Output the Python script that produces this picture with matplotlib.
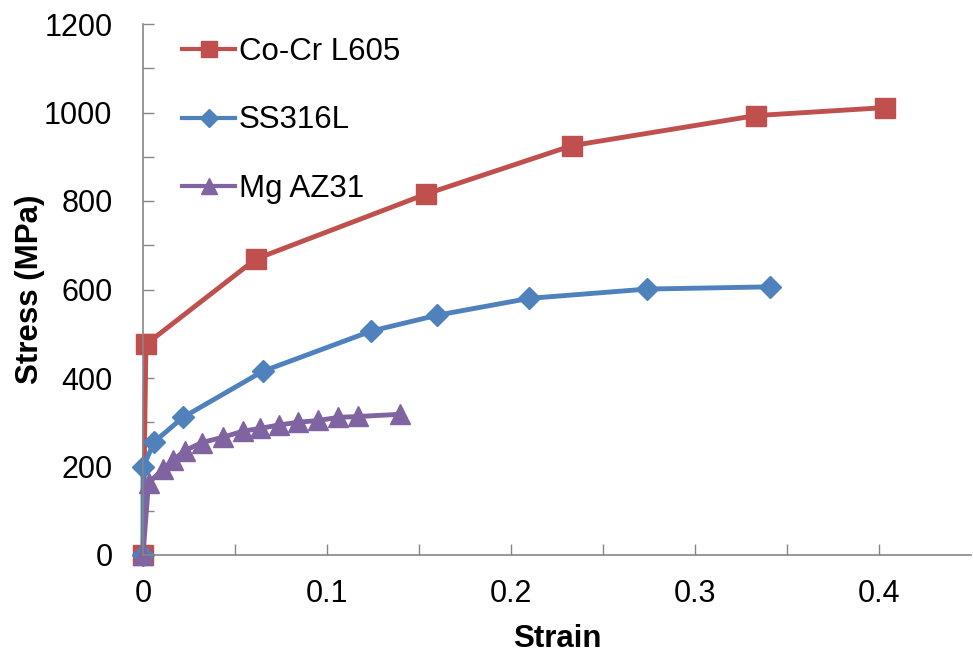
import numpy as np
import matplotlib
matplotlib.use("Agg")
import matplotlib.pyplot as plt

# =========================
# DATA
# =========================

cocr_strain = [0.0, 0.0016, 0.0614, 0.154, 0.233, 0.333, 0.403]
cocr_stress = [0, 476, 669, 816, 925, 993, 1011]

ss_strain = [0.0, 0.0, 0.0062, 0.0217, 0.065, 0.124, 0.160, 0.210, 0.274, 0.3406]
ss_stress = [0, 199, 256, 311, 415, 506, 542, 580, 601, 606]

mg_strain = [0.0, 0.0030, 0.0110, 0.0165, 0.0228, 0.0319, 0.0433, 0.0545,
             0.0636, 0.0741, 0.0844, 0.0953, 0.1061, 0.1170, 0.1397]
mg_stress = [0, 163, 194, 215, 236, 254, 266, 280,
             286, 294, 300, 304, 311, 313, 318]

labels = ["Co-Cr L605", "SS316L", "Mg AZ31"]
colors = ["#C0504D", "#4F81BD", "#8064A2"]

# =========================
# PLOT
# =========================

plt.rcParams['font.family'] = ['Liberation Sans', 'DejaVu Sans']

fig = plt.figure(figsize=(9.73, 6.52), dpi=100)
ax = fig.add_axes([143/973, 1 - 555/652, (971 - 143)/973, (555 - 24)/652])

ax.plot(cocr_strain, cocr_stress, color=colors[0], lw=3.5, marker='s',
        ms=14, mew=1, label=labels[0])
ax.plot(ss_strain, ss_stress, color=colors[1], lw=3.5, marker='D',
        ms=11, mew=1, label=labels[1])
ax.plot(mg_strain, mg_stress, color=colors[2], lw=3.5, marker='^',
        ms=15, mew=1, label=labels[2])

ax.set_xlim(0, 0.45)
ax.set_ylim(0, 1200)
ax.set_xticks([0, 0.1, 0.2, 0.3, 0.4])
ax.set_xticklabels(["0", "0.1", "0.2", "0.3", "0.4"])
ax.set_xticks(np.arange(0.05, 0.45, 0.1), minor=True)
ax.set_yticks(np.arange(0, 1201, 200))
ax.set_yticks(np.arange(100, 1200, 200), minor=True)

for s in ['top', 'right']:
    ax.spines[s].set_visible(False)
for s in ['left', 'bottom']:
    ax.spines[s].set_color('#868686')
    ax.spines[s].set_linewidth(1.2)

ax.tick_params(axis='both', which='both', direction='in', length=8,
               width=1, color='#868686', labelsize=22)
ax.tick_params(axis='x', pad=17)
ax.tick_params(axis='y', pad=22)

ax.set_xlabel("Strain", fontsize=22.5, fontweight='bold', labelpad=11)
ax.set_ylabel("Stress (MPa)", fontsize=22.5, fontweight='bold', labelpad=-1)

leg = ax.legend(loc='upper left', bbox_to_anchor=(182/973, 1 - 37/652),
                bbox_transform=fig.transFigure, frameon=False, fontsize=22.5,
                handlelength=1.7, handletextpad=0.12, labelspacing=1.23,
                borderpad=0, borderaxespad=0)
for h, m in zip(leg.legend_handles, [12, 9, 12]):
    h.set_markersize(m)
    h.set_linewidth(3)

for line in ax.get_lines():
    line.set_clip_on(False)

fig.savefig("out.png", dpi=100)
